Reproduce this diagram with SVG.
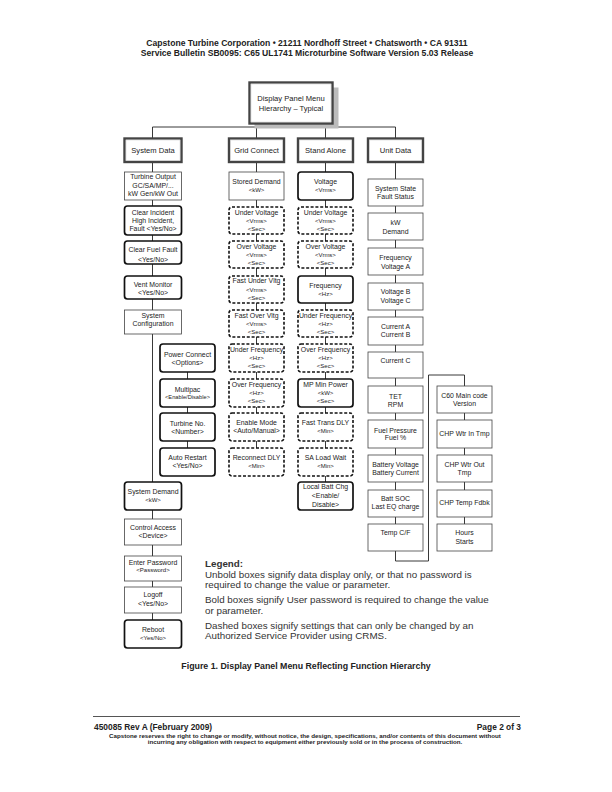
<svg xmlns="http://www.w3.org/2000/svg" width="612" height="792" viewBox="0 0 612 792">
<style>
text{font-family:"Liberation Sans",Arial,sans-serif;fill:#222}
.t{font-size:6.9px;text-anchor:middle}
.s{font-size:6px;text-anchor:middle}
.hd{font-size:7.6px;text-anchor:middle}
.p{fill:#fff;stroke:#444;stroke-width:0.8}
.b{fill:#fff;stroke:#111;stroke-width:1.7}
.d{fill:#fff;stroke:#111;stroke-width:1.6;stroke-dasharray:3 1.8}
.h{fill:#fff;stroke:#444;stroke-width:2.4}
.hi{fill:none;stroke:#ccc;stroke-width:0.5}
.c{fill:none;stroke:#222;stroke-width:0.9}
.bt{font-weight:bold}
.lg{font-size:9.8px;fill:#333}
</style>
<g id="page-header">
<text x="307" y="46" class="bt" style="font-size:8.6px;text-anchor:middle">Capstone Turbine Corporation • 21211 Nordhoff Street • Chatsworth • CA  91311</text>
<text x="307" y="56" class="bt" style="font-size:8.6px;text-anchor:middle">Service Bulletin SB0095: C65 UL1741 Microturbine Software Version 5.03 Release</text>
</g>
<g id="connectors">
<path class="c" d="M291 123V127M152.5 127H395.5M152.5 127V138M256.5 127V138M325.5 127V138M395.5 127V138"/>
<path class="c" d="M152.5 162V620M187.5 372V448"/>
<path class="c" d="M256.5 162V448"/>
<path class="c" d="M325.5 162V482"/>
<path class="c" d="M395.5 162V561H428.5V375H464.5V524"/>
</g>
<g id="root">
<rect x="254.5" y="87.5" width="84" height="41" fill="#bbb"/>
<rect x="249.5" y="82.5" width="83" height="41" class="h"/>
<rect x="251" y="84" width="80" height="38" class="hi"/>
<text x="291" y="101" class="hd">Display Panel Menu</text>
<text x="291" y="111" class="hd">Hierarchy – Typical</text>
</g>
<g id="system-data"><rect x="124.5" y="138.5" width="57" height="23.5" class="h"/><rect x="126" y="140" width="54" height="20.5" class="hi"/><text x="153" y="152.8" class="hd">System Data</text></g>
<g id="grid-connect"><rect x="229" y="138.5" width="55" height="23.5" class="h"/><rect x="230.5" y="140" width="52" height="20.5" class="hi"/><text x="256.5" y="152.8" class="hd">Grid Connect</text></g>
<g id="stand-alone"><rect x="298" y="138.5" width="55" height="23.5" class="h"/><rect x="299.5" y="140" width="52" height="20.5" class="hi"/><text x="325.5" y="152.8" class="hd">Stand Alone</text></g>
<g id="unit-data"><rect x="368" y="138.5" width="55" height="23.5" class="h"/><rect x="369.5" y="140" width="52" height="20.5" class="hi"/><text x="395.5" y="152.8" class="hd">Unit Data</text></g>

<g id="sd-turbine-output"><rect x="124.5" y="172" width="57" height="28" class="p"/><text x="153" y="179.2" class="t">Turbine Output</text><text x="153" y="187.6" class="t">GC/SA/MP/...</text><text x="153" y="196" class="t">kW Gen/kW Out</text></g>
<g id="sd-clear-incident"><rect x="124.5" y="206" width="57" height="29" rx="3" class="b"/><text x="153" y="214.6" class="t">Clear Incident</text><text x="153" y="222.7" class="t">High Incident,</text><text x="153" y="230.9" class="t">Fault &lt;Yes/No&gt;</text></g>
<g id="sd-clear-fuel"><rect x="124.5" y="241" width="57" height="23" rx="3" class="b"/><text x="153" y="252.4" class="t">Clear Fuel Fault</text><text x="153" y="261.6" class="t">&lt;Yes/No&gt;</text></g>
<g id="sd-vent"><rect x="124.5" y="276" width="57" height="23" rx="3" class="b"/><text x="153" y="287.2" class="t">Vent Monitor</text><text x="153" y="295.2" class="t">&lt;Yes/No&gt;</text></g>
<g id="sd-sysconfig"><rect x="124.5" y="310" width="57" height="24" class="p"/><text x="153" y="317.5" class="t">System</text><text x="153" y="325.8" class="t">Configuration</text></g>
<g id="sd-power-connect"><rect x="160" y="344" width="55" height="28" rx="3" class="b"/><text x="187.5" y="356.5" class="t">Power Connect</text><text x="187.5" y="364.8" class="t">&lt;Options&gt;</text></g>
<g id="sd-multipac"><rect x="160" y="379" width="55" height="28" rx="3" class="b"/><text x="187.5" y="391.5" class="t">Multipac</text><text x="187.5" y="398.8" class="s" style="font-size:5.7px">&lt;Enable/Disable&gt;</text></g>
<g id="sd-turbine-no"><rect x="160" y="413" width="55" height="28" rx="3" class="b"/><text x="187.5" y="425.8" class="t">Turbine No.</text><text x="187.5" y="433.5" class="t">&lt;Number&gt;</text></g>
<g id="sd-auto-restart"><rect x="160" y="448" width="55" height="28" rx="3" class="b"/><text x="187.5" y="460.2" class="t">Auto Restart</text><text x="187.5" y="468.2" class="t">&lt;Yes/No&gt;</text></g>
<g id="sd-system-demand"><rect x="124.5" y="482" width="57" height="28" rx="3" class="b"/><text x="153" y="494.2" class="t">System Demand</text><text x="153" y="501.8" class="s">&lt;kW&gt;</text></g>
<g id="sd-control-access"><rect x="124.5" y="519" width="57" height="26" class="p"/><text x="153" y="529.7" class="t">Control Access</text><text x="153" y="538.2" class="t">&lt;Device&gt;</text></g>
<g id="sd-enter-password"><rect x="124.5" y="556" width="57" height="25" class="p"/><text x="153" y="564.7" class="t">Enter Password</text><text x="153" y="572.4" class="s">&lt;Password&gt;</text></g>
<g id="sd-logoff"><rect x="124.5" y="587" width="57" height="26" class="p"/><text x="153" y="597.2" class="t">Logoff</text><text x="153" y="605.7" class="t">&lt;Yes/No&gt;</text></g>
<g id="sd-reboot"><rect x="124.5" y="620" width="57" height="28" rx="3" class="b"/><text x="153" y="631.7" class="t">Reboot</text><text x="153" y="639.7" class="s">&lt;Yes/No&gt;</text></g>

<g id="gc-stored-demand"><rect x="229" y="172" width="55" height="28" class="p"/><text x="256.5" y="184.2" class="t">Stored Demand</text><text x="256.5" y="191.8" class="s">&lt;kW&gt;</text></g>
<g id="gc-under-voltage"><rect x="229" y="207" width="55" height="27" rx="3" class="d"/><text x="256.5" y="214.7" class="t">Under Voltage</text><text x="256.5" y="223" class="s">&lt;Vrms&gt;</text><text x="256.5" y="230.5" class="s">&lt;Sec&gt;</text></g>
<g id="gc-over-voltage"><rect x="229" y="241" width="55" height="27" rx="3" class="d"/><text x="256.5" y="248.7" class="t">Over Voltage</text><text x="256.5" y="257" class="s">&lt;Vrms&gt;</text><text x="256.5" y="264.5" class="s">&lt;Sec&gt;</text></g>
<g id="gc-fast-under"><rect x="229" y="276" width="55" height="27" rx="3" class="d"/><text x="256.5" y="283.2" class="t">Fast Under Vltg</text><text x="256.5" y="291.7" class="s">&lt;Vrms&gt;</text><text x="256.5" y="299.5" class="s">&lt;Sec&gt;</text></g>
<g id="gc-fast-over"><rect x="229" y="310" width="55" height="27" rx="3" class="d"/><text x="256.5" y="317.7" class="t">Fast Over Vltg</text><text x="256.5" y="326" class="s">&lt;Vrms&gt;</text><text x="256.5" y="333.5" class="s">&lt;Sec&gt;</text></g>
<g id="gc-under-freq"><rect x="229" y="344" width="55" height="28" rx="3" class="d"/><text x="256.5" y="351.7" class="t">Under Frequency</text><text x="256.5" y="360" class="s">&lt;Hz&gt;</text><text x="256.5" y="367.8" class="s">&lt;Sec&gt;</text></g>
<g id="gc-over-freq"><rect x="229" y="379" width="55" height="28" rx="3" class="d"/><text x="256.5" y="386.7" class="t">Over Frequency</text><text x="256.5" y="395" class="s">&lt;Hz&gt;</text><text x="256.5" y="402.8" class="s">&lt;Sec&gt;</text></g>
<g id="gc-enable-mode"><rect x="229" y="413" width="55" height="28" rx="3" class="d"/><text x="256.5" y="425.2" class="t">Enable Mode</text><text x="256.5" y="433.2" class="t">&lt;Auto/Manual&gt;</text></g>
<g id="gc-reconnect"><rect x="229" y="448" width="55" height="28" rx="3" class="d"/><text x="256.5" y="459.8" class="t">Reconnect DLY</text><text x="256.5" y="468" class="s">&lt;Min&gt;</text></g>

<g id="sa-voltage"><rect x="298" y="172" width="55" height="28" rx="3" class="b"/><text x="325.5" y="184.2" class="t">Voltage</text><text x="325.5" y="191.6" class="s">&lt;Vrms&gt;</text></g>
<g id="sa-under-voltage"><rect x="298" y="207" width="55" height="27" rx="3" class="d"/><text x="325.5" y="214.7" class="t">Under Voltage</text><text x="325.5" y="223" class="s">&lt;Vrms&gt;</text><text x="325.5" y="230.5" class="s">&lt;Sec&gt;</text></g>
<g id="sa-over-voltage"><rect x="298" y="241" width="55" height="27" rx="3" class="d"/><text x="325.5" y="248.7" class="t">Over Voltage</text><text x="325.5" y="257" class="s">&lt;Vrms&gt;</text><text x="325.5" y="264.5" class="s">&lt;Sec&gt;</text></g>
<g id="sa-frequency"><rect x="298" y="276" width="55" height="27" rx="3" class="b"/><text x="325.5" y="287.5" class="t">Frequency</text><text x="325.5" y="295.7" class="s">&lt;Hz&gt;</text></g>
<g id="sa-under-freq"><rect x="298" y="310" width="55" height="27" rx="3" class="d"/><text x="325.5" y="317.7" class="t">Under Frequency</text><text x="325.5" y="326" class="s">&lt;Hz&gt;</text><text x="325.5" y="333.5" class="s">&lt;Sec&gt;</text></g>
<g id="sa-over-freq"><rect x="298" y="344" width="55" height="28" rx="3" class="d"/><text x="325.5" y="351.7" class="t">Over Frequency</text><text x="325.5" y="360" class="s">&lt;Hz&gt;</text><text x="325.5" y="367.8" class="s">&lt;Sec&gt;</text></g>
<g id="sa-mp-min-power"><rect x="298" y="379" width="55" height="28" rx="3" class="b"/><text x="325.5" y="386.7" class="t">MP Min Power</text><text x="325.5" y="395" class="s">&lt;kW&gt;</text><text x="325.5" y="402.8" class="s">&lt;Sec&gt;</text></g>
<g id="sa-fast-trans"><rect x="298" y="413" width="55" height="28" rx="3" class="d"/><text x="325.5" y="425.2" class="t">Fast Trans DLY</text><text x="325.5" y="433.2" class="s">&lt;Min&gt;</text></g>
<g id="sa-load-wait"><rect x="298" y="448" width="55" height="28" rx="3" class="d"/><text x="325.5" y="459.8" class="t">SA Load Wait</text><text x="325.5" y="468" class="s">&lt;Min&gt;</text></g>
<g id="sa-local-batt"><rect x="298" y="482" width="55" height="28" rx="3" class="b"/><text x="325.5" y="489.2" class="t">Local Batt Chg</text><text x="325.5" y="498.2" class="t">&lt;Enable/</text><text x="325.5" y="506.5" class="t">Disable&gt;</text></g>

<g id="ud-system-state"><rect x="368" y="179" width="55" height="27" class="p"/><text x="395.5" y="190.8" class="t">System State</text><text x="395.5" y="199.2" class="t">Fault Status</text></g>
<g id="ud-kw"><rect x="368" y="213" width="55" height="27" class="p"/><text x="395.5" y="225.2" class="t">kW</text><text x="395.5" y="233.5" class="t">Demand</text></g>
<g id="ud-frequency"><rect x="368" y="248" width="55" height="27" class="p"/><text x="395.5" y="260.2" class="t">Frequency</text><text x="395.5" y="268.5" class="t">Voltage A</text></g>
<g id="ud-voltage-b"><rect x="368" y="283" width="55" height="27" class="p"/><text x="395.5" y="294.2" class="t">Voltage B</text><text x="395.5" y="302.5" class="t">Voltage C</text></g>
<g id="ud-current-a"><rect x="368" y="317" width="55" height="28" class="p"/><text x="395.5" y="328.5" class="t">Current A</text><text x="395.5" y="336.5" class="t">Current B</text></g>
<g id="ud-current-c"><rect x="368" y="352" width="55" height="26" class="p"/><text x="395.5" y="363.2" class="t">Current C</text></g>
<g id="ud-tet"><rect x="368" y="386" width="55" height="27" class="p"/><text x="395.5" y="398.5" class="t">TET</text><text x="395.5" y="406.5" class="t">RPM</text></g>
<g id="ud-fuel"><rect x="368" y="420" width="55" height="28" class="p"/><text x="395.5" y="432.5" class="t">Fuel Pressure</text><text x="395.5" y="440.2" class="t">Fuel %</text></g>
<g id="ud-battery"><rect x="368" y="455" width="55" height="27" class="p"/><text x="395.5" y="466.8" class="t">Battery Voltage</text><text x="395.5" y="474.8" class="t">Battery Current</text></g>
<g id="ud-batt-soc"><rect x="368" y="490" width="55" height="27" class="p"/><text x="395.5" y="500.8" class="t">Batt SOC</text><text x="395.5" y="509.2" class="t">Last EQ charge</text></g>
<g id="ud-temp"><rect x="368" y="524" width="55" height="27" class="p"/><text x="395.5" y="535.2" class="t">Temp C/F</text></g>

<g id="c60-main"><rect x="437" y="386" width="55" height="27" class="p"/><text x="464.5" y="397.5" class="t">C60 Main code</text><text x="464.5" y="405.8" class="t">Version</text></g>
<g id="chp-wtr-in"><rect x="437" y="420" width="55" height="28" class="p"/><text x="464.5" y="435.8" class="t">CHP Wtr In Tmp</text></g>
<g id="chp-wtr-out"><rect x="437" y="455" width="55" height="27" class="p"/><text x="464.5" y="466.5" class="t">CHP Wtr Out</text><text x="464.5" y="475.2" class="t">Tmp</text></g>
<g id="chp-temp"><rect x="437" y="490" width="55" height="27" class="p"/><text x="464.5" y="504.8" class="t">CHP Temp Fdbk</text></g>
<g id="hours"><rect x="437" y="524" width="55" height="27" class="p"/><text x="464.5" y="535.2" class="t">Hours</text><text x="464.5" y="544.2" class="t">Starts</text></g>

<g id="legend">
<text x="205" y="567" class="lg bt">Legend:</text>
<text x="205" y="577.5" class="lg">Unbold boxes signify data display only, or that no password is</text>
<text x="205" y="588" class="lg">required to change the value or parameter.</text>
<text x="205" y="603" class="lg">Bold boxes signify User password is required to change the value</text>
<text x="205" y="613.5" class="lg">or parameter.</text>
<text x="205" y="628.5" class="lg">Dashed boxes signify settings that can only be changed by an</text>
<text x="205" y="639" class="lg">Authorized Service Provider using CRMS.</text>
</g>
<text x="306" y="669" class="bt" style="font-size:8.8px;text-anchor:middle">Figure 1. Display Panel Menu Reflecting Function Hierarchy</text>
<g id="footer">
<line x1="93" y1="716.5" x2="520" y2="716.5" stroke="#555" stroke-width="1"/>
<text x="94" y="729.6" class="bt" style="font-size:8.4px">450085 Rev A (February 2009)</text>
<text x="521" y="729.6" class="bt" style="font-size:8.4px;text-anchor:end">Page 2 of 3</text>
<text x="305" y="737.6" class="bt" style="font-size:6.2px;text-anchor:middle">Capstone reserves the right to change or modify, without notice, the design, specifications, and/or contents of this document without</text>
<text x="305" y="743.8" class="bt" style="font-size:6.2px;text-anchor:middle">incurring any obligation with respect to equipment either previously sold or in the process of construction.</text>
</g>
</svg>
